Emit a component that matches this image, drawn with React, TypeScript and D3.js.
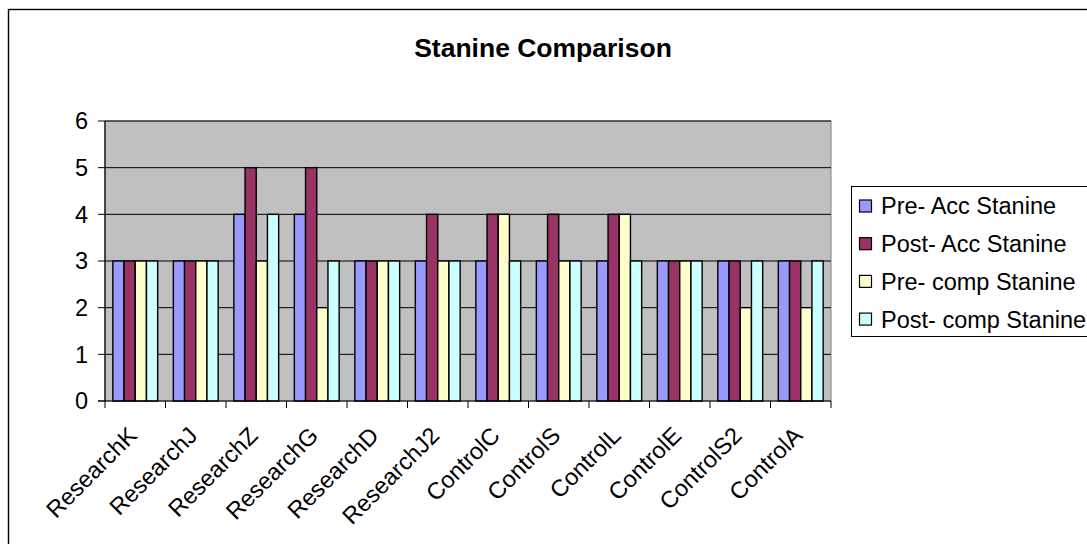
import React from "react";
import * as d3 from "d3";

const categories = [
  "ResearchK", "ResearchJ", "ResearchZ", "ResearchG", "ResearchD", "ResearchJ2",
  "ControlC", "ControlS", "ControlL", "ControlE", "ControlS2", "ControlA",
];
const seriesNames = ["Pre- Acc Stanine", "Post- Acc Stanine", "Pre- comp Stanine", "Post- comp Stanine"];
const preAcc = [3, 3, 4, 4, 3, 3, 3, 3, 3, 3, 3, 3];
const postAcc = [3, 3, 5, 5, 3, 4, 4, 4, 4, 3, 3, 3];
const preComp = [3, 3, 3, 2, 3, 3, 4, 3, 4, 3, 2, 2];
const postComp = [3, 3, 4, 3, 3, 3, 3, 3, 3, 3, 3, 3];
const yTicks = [0, 1, 2, 3, 4, 5, 6];
const colors = ["#9999FF", "#993366", "#FFFFCC", "#CCFFFF"];

const W = 1087;
const H = 544;
const plot = { left: 105, right: 831, top: 121, bottom: 401 };
const FONT = "'Liberation Sans', Arial, sans-serif";
const FS = 23.5;

export default function App() {
  const series = [preAcc, postAcc, preComp, postComp];
  const x = d3.scaleBand<string>().domain(categories).range([plot.left, plot.right]).paddingInner(0).paddingOuter(0);
  const inner = d3.scaleBand<number>().domain([0, 1, 2, 3]).range([0, x.bandwidth()]).paddingOuter(0.7).paddingInner(0);
  const y = d3.scaleLinear().domain([0, 6]).range([plot.bottom, plot.top]);
  const boundaries = categories.map((c) => x(c) as number).concat([plot.right]);

  return (
    <svg width={W} height={H} style={{ position: "absolute", left: 0, top: 0, background: "#fff" }} fontFamily={FONT}>
      {/* chart frame */}
      <rect x={8.5} y={9.5} width={1100} height={560} fill="#fff" stroke="#000" strokeWidth={1.4} />

      <text x={543} y={57} textAnchor="middle" fontSize={26.5} fontWeight="bold">Stanine Comparison</text>

      {/* plot area */}
      <rect x={plot.left} y={plot.top} width={plot.right - plot.left} height={plot.bottom - plot.top} fill="#C0C0C0" stroke="#808080" strokeWidth={1} />
      {yTicks.slice(1).map((t) => (
        <line key={t} x1={plot.left} x2={plot.right} y1={y(t)} y2={y(t)} stroke="#000" strokeWidth={1} />
      ))}

      {/* bars */}
      {series.map((vals, si) =>
        vals.map((v, ci) => (
          <rect
            key={`${si}-${ci}`}
            x={(x(categories[ci]) as number) + (inner(si) as number)}
            y={y(v)}
            width={inner.bandwidth()}
            height={y(0) - y(v)}
            fill={colors[si]}
            stroke="#000"
            strokeWidth={1.4}
          />
        ))
      )}

      {/* axes */}
      <line x1={plot.left} x2={plot.left} y1={plot.top} y2={plot.bottom} stroke="#000" strokeWidth={1.2} />
      <line x1={plot.left - 7} x2={plot.right} y1={plot.bottom} y2={plot.bottom} stroke="#000" strokeWidth={1.2} />
      {yTicks.map((t) => (
        <g key={t}>
          <line x1={plot.left - 7} x2={plot.left} y1={y(t)} y2={y(t)} stroke="#000" strokeWidth={1} />
          <text x={88} y={y(t)} dy="0.36em" textAnchor="end" fontSize={FS}>{t}</text>
        </g>
      ))}
      {boundaries.map((b, i) => (
        <line key={i} x1={b} x2={b} y1={plot.bottom} y2={plot.bottom + 7} stroke="#000" strokeWidth={1} />
      ))}
      {categories.map((c) => {
        const cx = (x(c) as number) + x.bandwidth() / 2 + 3;
        const cy = 437;
        return (
          <text key={c} x={cx} y={cy} textAnchor="end" fontSize={FS} transform={`rotate(-45 ${cx} ${cy})`}>{c}</text>
        );
      })}

      {/* legend */}
      <rect x={851.5} y={186.5} width={300} height={150} fill="#fff" stroke="#000" strokeWidth={1} />
      {seriesNames.map((n, i) => {
        const cy = 206 + i * 37.7;
        return (
          <g key={n}>
            <rect x={859.5} y={cy - 6} width={12} height={12} fill={colors[i]} stroke="#000" strokeWidth={1.2} />
            <text x={881} y={cy} dy="0.36em" fontSize={FS}>{n}</text>
          </g>
        );
      })}
    </svg>
  );
}
